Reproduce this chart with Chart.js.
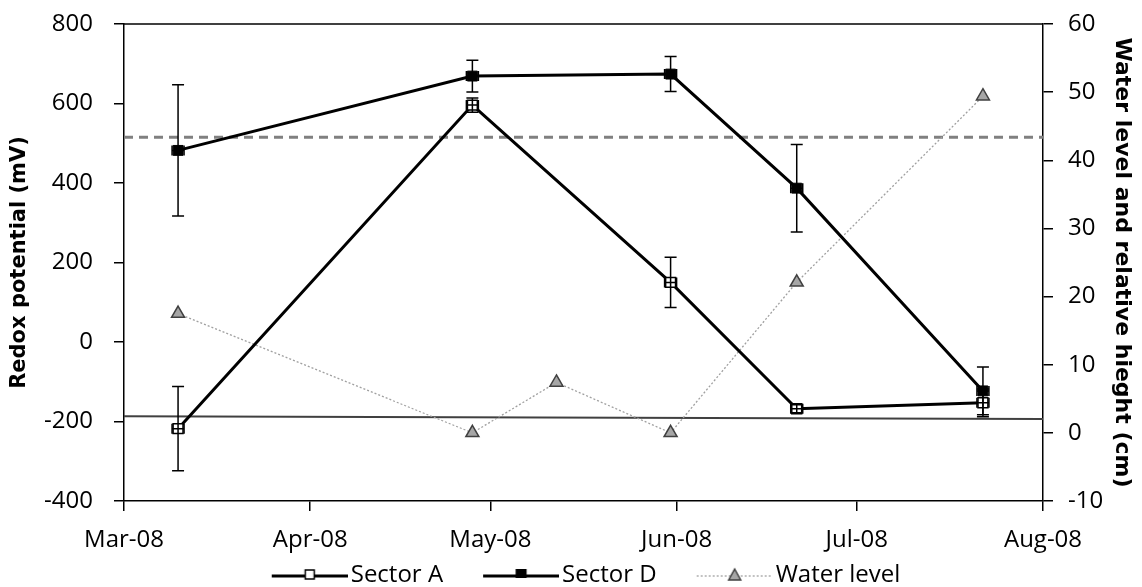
<!DOCTYPE html>
<html>
<head>
<meta charset="utf-8">
<script src="https://cdn.jsdelivr.net/npm/chart.js@4.4.1/dist/chart.umd.min.js"></script>
<style>
  html, body { margin: 0; padding: 0; background: #fff; }
  #wrap { width: 1142px; height: 587px; }
</style>
</head>
<body>
<div id="wrap"><canvas id="RedoxChart"></canvas></div>
<script>
// sampling dates
const startDate = "2008-03-01";
const sectorDates = ["2008-03-10", "2008-04-28", "2008-05-31", "2008-06-21", "2008-07-22"];
const waterDates = ["2008-03-10", "2008-04-28", "2008-05-12", "2008-05-31", "2008-06-21", "2008-07-22"];

// redox potential (mV) with error bars
const sectorA = [-218, 596, 150, -168, -153];
const sectorAErr = [106, 18, 63, 10, 35];
const sectorD = [482, 669, 674, 387, -123];
const sectorDErr = [165, 40, 44, 110, 60];

// water level (cm), right axis
const waterLevel = [17.5, 0, 7.4, 0, 22.1, 49.4];

// reference lines (mV)
const dashedRef = [515, 515];
const solidRef = [-187, -194];

// x axis ticks (days since Mar 1) and labels
const monthTicks = [0, 31, 61, 92, 122, 153];
const monthLabels = ["Mar-08", "Apr-08", "May-08", "Jun-08", "Jul-08", "Aug-08"];

const dayOf = d => (Date.parse(d) - Date.parse(startDate)) / 864e5;
const pts = (dates, vals) => dates.map((d, i) => ({ x: dayOf(d), y: vals[i] }));

const tickFont = { family: "'Open Sans'", size: 24 };

// legend swatch: transparent margin on the left, then line with marker in middle
const SW_BOX = 97, SW_W = SW_BOX + 18, SW_LINE = 76;
function swatch(kind) {
  const c = document.createElement("canvas");
  c.width = SW_W; c.height = 18;
  const g = c.getContext("2d");
  const x0 = SW_W - SW_LINE, mid = x0 + SW_LINE / 2;
  g.beginPath();
  if (kind === "water") {
    g.strokeStyle = "#9a9a9a"; g.lineWidth = 1.2; g.setLineDash([2, 2]);
  } else {
    g.strokeStyle = "#000"; g.lineWidth = 3;
  }
  g.moveTo(x0, 10); g.lineTo(SW_W, 10); g.stroke();
  g.setLineDash([]);
  if (kind === "A") {
    g.fillStyle = "#fff"; g.strokeStyle = "#000"; g.lineWidth = 1.5;
    g.fillRect(mid - 4.5, 4, 9, 9); g.strokeRect(mid - 4.5, 4, 9, 9);
  } else if (kind === "D") {
    g.fillStyle = "#000"; g.fillRect(mid - 5.5, 3, 11, 9);
  } else {
    g.beginPath(); g.moveTo(mid, 3); g.lineTo(mid + 6, 14); g.lineTo(mid - 6, 14); g.closePath();
    g.fillStyle = "#a6a6a6"; g.fill(); g.strokeStyle = "#404040"; g.lineWidth = 1.5; g.stroke();
  }
  return c;
}
const swatches = [swatch("A"), swatch("D"), swatch("water")];

const errorBars = {
  id: "errorBars",
  afterDatasetsDraw(chart) {
    const ctx = chart.ctx;
    const y = chart.scales.y;
    ctx.save();
    ctx.strokeStyle = "#000";
    ctx.lineWidth = 1.5;
    chart.data.datasets.forEach((ds, i) => {
      if (!ds.errors) return;
      chart.getDatasetMeta(i).data.forEach((p, j) => {
        const v = ds.data[j].y, e = ds.errors[j];
        const top = y.getPixelForValue(v + e), bot = y.getPixelForValue(v - e);
        ctx.beginPath();
        ctx.moveTo(p.x, top); ctx.lineTo(p.x, bot);
        ctx.moveTo(p.x - 6, top); ctx.lineTo(p.x + 6, top);
        ctx.moveTo(p.x - 6, bot); ctx.lineTo(p.x + 6, bot);
        // small horizontal bars
        ctx.moveTo(p.x - 6, p.y); ctx.lineTo(p.x + 6, p.y);
        ctx.moveTo(p.x - 6, p.y - 5); ctx.lineTo(p.x - 6, p.y + 5);
        ctx.moveTo(p.x + 6, p.y - 5); ctx.lineTo(p.x + 6, p.y + 5);
        ctx.stroke();
      });
    });
    ctx.restore();
  }
};

const topBorder = {
  id: "topBorder",
  afterDraw(chart) {
    const a = chart.chartArea, ctx = chart.ctx;
    ctx.save();
    ctx.strokeStyle = "#000"; ctx.lineWidth = 1.5;
    ctx.beginPath(); ctx.moveTo(a.left, a.top); ctx.lineTo(a.right, a.top); ctx.stroke();
    ctx.restore();
  }
};

const fixV = w => s => { s.width = w; s.paddingTop = 0; s.paddingBottom = 0; };

const ctx = document.getElementById("RedoxChart").getContext("2d");
new Chart(ctx, {
  type: "line",
  data: {
    datasets: [
      {
        label: "Sector A",
        data: pts(sectorDates, sectorA),
        errors: sectorAErr,
        yAxisID: "y",
        borderColor: "#000", borderWidth: 3,
        pointStyle: "rect", pointRadius: 7, pointBackgroundColor: "#fff",
        pointBorderColor: "#000", pointBorderWidth: 1.5,
        order: 1
      },
      {
        label: "Sector D",
        data: pts(sectorDates, sectorD),
        errors: sectorDErr,
        yAxisID: "y",
        borderColor: "#000", borderWidth: 3,
        pointStyle: "rect", pointRadius: 7, pointBackgroundColor: "#000",
        pointBorderColor: "#000", pointBorderWidth: 1,
        order: 2
      },
      {
        label: "Water level",
        data: pts(waterDates, waterLevel),
        yAxisID: "y2",
        borderColor: "#a0a0a0", borderWidth: 1.3, borderDash: [2, 2],
        pointStyle: "triangle", pointRadius: 7.5, pointBackgroundColor: "#a6a6a6",
        pointBorderColor: "#404040", pointBorderWidth: 1.5,
        order: 3
      },
      {
        label: "ref-dashed",
        data: pts([startDate, "2008-08-01"], dashedRef),
        yAxisID: "y",
        borderColor: "#808080", borderWidth: 3, borderDash: [9, 6],
        pointRadius: 0, order: 4
      },
      {
        label: "ref-solid",
        data: pts([startDate, "2008-08-01"], solidRef),
        yAxisID: "y",
        borderColor: "#404040", borderWidth: 2,
        pointRadius: 0, order: 5
      }
    ]
  },
  options: {
    responsive: true,
    maintainAspectRatio: false,
    animation: false,
    layout: { padding: { top: 24, bottom: -10 } },
    scales: {
      x: {
        type: "linear", min: 0, max: 153,
        afterBuildTicks: s => { s.ticks = monthTicks.map(v => ({ value: v })); },
        afterFit: s => { s.height = 52; },
        grid: { drawOnChartArea: false, color: "#000", tickLength: 10, lineWidth: 1.5 },
        border: { color: "#000", width: 1.5 },
        ticks: {
          color: "#000", font: tickFont, padding: 15, maxRotation: 0, autoSkip: false,
          callback: (v, i) => monthLabels[i]
        }
      },
      y: {
        position: "left", min: -400, max: 800,
        afterFit: fixV(124),
        grid: { drawOnChartArea: false, color: "#000", tickLength: 10, lineWidth: 1.5 },
        border: { color: "#000", width: 1.5 },
        ticks: { stepSize: 200, color: "#000", font: tickFont, padding: 21 },
        title: {
          display: true, text: "Redox potential (mV)", color: "#000", padding: 7,
          font: { family: "'DejaVu Sans'", size: 21, weight: "bold" }
        }
      },
      y2: {
        position: "right", min: -10, max: 60,
        afterFit: fixV(99),
        grid: { drawOnChartArea: false, color: "#000", tickLength: 10, lineWidth: 1.5 },
        border: { color: "#000", width: 1.5 },
        ticks: { stepSize: 10, color: "#000", font: tickFont, padding: 15 },
        title: {
          display: true, text: "Water level and relative hieght (cm)", color: "#000", padding: 7,
          font: { family: "'DejaVu Sans'", size: 22, weight: "bold" }
        }
      }
    },
    plugins: {
      tooltip: { enabled: false },
      legend: {
        position: "bottom",
        labels: {
          usePointStyle: true,
          pointStyleWidth: SW_BOX,
          boxHeight: 18,
          padding: 10,
          color: "#000",
          font: { family: "'Open Sans'", size: 24 },
          filter: item => item.datasetIndex < 3,
          generateLabels: chart => {
            const items = Chart.defaults.plugins.legend.labels.generateLabels(chart);
            items.forEach(it => { if (it.datasetIndex < 3) it.pointStyle = swatches[it.datasetIndex]; });
            return items;
          }
        }
      }
    }
  },
  plugins: [errorBars, topBorder]
});
</script>
</body>
</html>
